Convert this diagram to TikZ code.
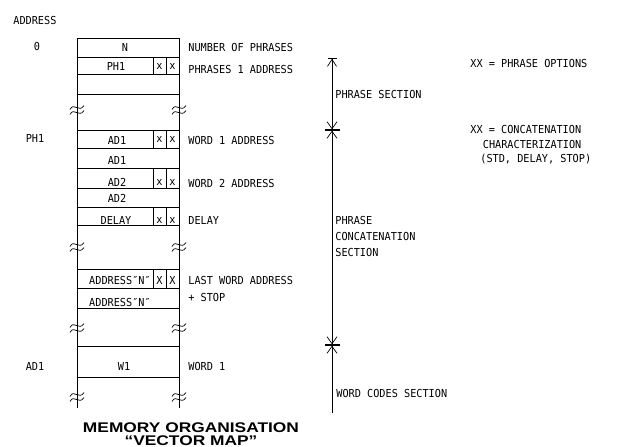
\documentclass[tikz,border=0pt]{standalone}
\usepackage{fontspec}
\setmonofont[FakeStretch=0.93]{DejaVu Sans Mono}
\newfontfamily\titlefont[FakeStretch=1.24]{Liberation Sans}
\usetikzlibrary{arrows.meta}
\begin{document}
\begin{tikzpicture}[x=1pt,y=-1pt,line width=0.7pt,font=\ttfamily\fontsize{11}{13}\selectfont,
  cell/.style={inner sep=0pt},
  lbl/.style={inner sep=0pt,anchor=west},
  note/.style={inner sep=0pt,anchor=west,align=left},
  barb/.style={Straight Barb[length=7pt,width=10pt,sep=0pt]},
  tip/.style={{Bar[width=9pt,sep=0pt]Straight Barb[length=7pt,width=9pt,sep=0pt]}-{Straight Barb[length=7pt,width=10pt,sep=0pt]Bar[width=15pt]}},
  mid/.style={{Bar[width=15pt,sep=0pt]Straight Barb[length=7pt,width=10pt,sep=0pt]}-{Straight Barb[length=7pt,width=10pt,sep=0pt]Bar[width=15pt]}},
  low/.style={{Bar[width=15pt,sep=0pt]Straight Barb[length=7pt,width=10pt,sep=0pt]}-}]
  \useasboundingbox (0,0) rectangle (619,447);
  \draw (77,38) -- (77,408) (179,38) -- (179,408);
  \foreach \y in {38,57,74,94,130,148,168,188,207,225,269,288,308,346,377}
    \draw (77,\y) -- (179,\y);
  \foreach \y/\h in {57/74,130/148,168/188,207/225,269/288}
    \draw (153,\y) -- (153,\h) (166,\y) -- (166,\h);
  \foreach \y in {110,247,328,397}
    \foreach \x in {77,179}
      \foreach \yy in {\y-2.5,\y+2.5}
        \draw (\x-7,\yy+2) .. controls (\x-3,\yy-6) and (\x+2,\yy+6) .. (\x+7,\yy-2);
  \node[lbl] (addr) at (13,20){ADDRESS};
  \node[cell] (a0) at (37,46){0};
  \node[cell] (aph) at (35,138){PH1};
  \node[cell] (aad) at (35,366){AD1};
  \node[cell] (n) at (125,47){N};
  \node[cell] (ph) at (116,66){PH1};
  \node[cell] (ad1a) at (117,140){AD1};
  \node[cell] (ad1b) at (117,160){AD1};
  \node[cell] (ad2a) at (117,182){AD2};
  \node[cell] (ad2b) at (117,198){AD2};
  \node[cell] (dly) at (116,220){DELAY};
  \node[cell] (adna) at (120,280){ADDRESS″N″};
  \node[cell] (adnb) at (120,302){ADDRESS″N″};
  \node[cell] (w1) at (124,366){W1};
  \foreach \r/\y in {a/66,b/139,c/182,d/220}{
    \node[cell] (xa\r) at (159.5,\y){x};
    \node[cell] (xb\r) at (172.5,\y){x};}
  \node[cell] (xae) at (159.5,280){X};
  \node[cell] (xbe) at (172.5,280){X};
  \node[lbl] (t1) at (188,47){NUMBER OF PHRASES};
  \node[lbl] (t2) at (188,69){PHRASES 1 ADDRESS};
  \node[lbl] (t3) at (188,140){WORD 1 ADDRESS};
  \node[lbl] (t4) at (188,183){WORD 2 ADDRESS};
  \node[lbl] (t5) at (188,220){DELAY};
  \node[lbl] (t6) at (188,280){LAST WORD ADDRESS};
  \node[lbl] (t7) at (188,297){+ STOP};
  \node[lbl] (t8) at (188,366){WORD 1};
  \coordinate (top) at (332,58);
  \coordinate (m1) at (332,130);
  \coordinate (m2) at (332,345);
  \coordinate (bot) at (332,413);
  \draw[tip] (top) -- (m1);
  \draw[mid] (m1) -- (m2);
  \draw[low] (m2) -- (bot);
  \node[lbl] (s1) at (335,94){PHRASE SECTION};
  \node[note,font=\ttfamily\fontsize{11}{16}\selectfont] (s2) at (335,236){PHRASE\\CONCATENATION\\SECTION};
  \node[lbl] (s3) at (336,393){WORD CODES SECTION};
  \node[lbl] (o1) at (470,63){XX = PHRASE OPTIONS};
  \node[note,font=\ttfamily\fontsize{11}{14.5}\selectfont] (o2) at (470,145){XX = CONCATENATION\\\hspace*{12.5pt}CHARACTERIZATION\\\hspace*{10pt}(STD, DELAY, STOP)};
  \node[align=center,inner sep=0pt,font=\titlefont\bfseries\fontsize{14}{12.5}\selectfont] (title) at (191,434){MEMORY ORGANISATION\\“VECTOR MAP”};
\end{tikzpicture}
\end{document}
